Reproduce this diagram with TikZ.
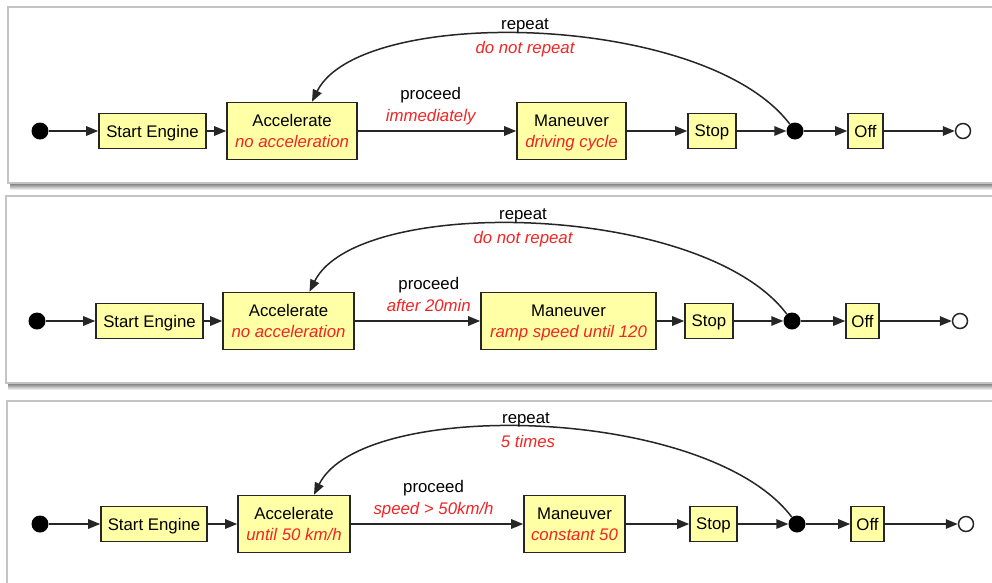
\documentclass[tikz,border=0pt]{standalone}
\usepackage{fontspec}
\setmainfont{Liberation Sans}
\usetikzlibrary{arrows.meta}
\definecolor{boxy}{HTML}{FFFFA6}
\definecolor{redt}{HTML}{F22424}
\definecolor{framec}{HTML}{C4C4C4}
\newcommand\redit[1]{{\color{redt}\itshape #1}}
\newcommand\labfont{\fontsize{16.8}{21}\selectfont}
\begin{document}
\begin{tikzpicture}[x=1pt,y=-1pt,
 box/.style={draw=black!85, line width=1.6pt, fill=boxy, inner sep=0pt, align=center, font=\labfont, minimum height=35pt, text depth=0pt},
 bigbox/.style={box, minimum height=57pt},
 dotn/.style={circle, fill=black, minimum size=17pt, inner sep=0pt},
 fin/.style={circle, draw=black!85, fill=white, line width=1.5pt, minimum size=15pt, inner sep=0pt},
 conn/.style={line width=1.5pt, draw=black!85, -{Triangle[length=12pt,width=9.5pt]}},
 lbl/.style={font=\labfont, inner sep=0pt, anchor=base},
 panelframe/.style={draw=framec, line width=1.2pt, fill=white},
 shadowband/.style={top color=black!55, bottom color=white}
]
\useasboundingbox (0,0) rectangle (992,582);
\clip (0,0) rectangle (992,582);
\fill[white] (0,0) rectangle (992,582);

% ---------- panel frames ----------
\shade[shadowband] (10,183) rectangle (1000,190);
\draw[panelframe] (8,7) rectangle (1000,183);
\shade[shadowband] (8,383) rectangle (1000,390);
\draw[panelframe] (6,196) rectangle (1000,383);
\draw[panelframe] (7,401) rectangle (1000,600);

% ---------- panel 1 ----------
\node[dotn] (i1) at (40,131) {};
\node[box, minimum width=107pt] (se1) at (152.5,131) {Start Engine};
\node[bigbox, minimum width=130pt] (ac1) at (292,131) {Accelerate\\\redit{no acceleration}};
\node[bigbox, minimum width=109pt] (mn1) at (571.5,131) {Maneuver\\\redit{driving cycle}};
\node[box, minimum width=48pt] (st1) at (712,131) {Stop};
\node[dotn] (j1) at (795,131) {};
\node[box, minimum width=35pt] (off1) at (865.5,131) {Off};
\node[fin] (f1) at (963,131) {};
\draw[conn] (i1) -- (se1);
\draw[conn] (se1) -- (ac1);
\draw[conn] (ac1) -- node[lbl, pos=.46, yshift=32pt] (p1a) {proceed}
                     node[lbl, pos=.46, yshift=10pt] (p1b) {\redit{immediately}} (mn1);
\draw[conn] (mn1) -- (st1);
\draw[conn] (st1) -- (j1);
\draw[conn] (j1) -- (off1);
\draw[conn] (off1) -- (f1);
\draw[conn] (j1) .. controls +(-90,-119) and +(48,-97) .. ([xshift=20pt]ac1.north);
\node[lbl] (r1a) at (525,29) {repeat};
\node[lbl] (r1b) at (525,53) {\redit{do not repeat}};

% ---------- panel 2 ----------
\node[dotn] (i2) at (37,321) {};
\node[box, minimum width=107pt] (se2) at (149.5,321) {Start Engine};
\node[bigbox, minimum width=131pt] (ac2) at (288.5,321) {Accelerate\\\redit{no acceleration}};
\node[bigbox, minimum width=175pt] (mn2) at (568.5,321) {Maneuver\\\redit{ramp speed until 120}};
\node[box, minimum width=48pt] (st2) at (709,321) {Stop};
\node[dotn] (j2) at (792,321) {};
\node[box, minimum width=33pt] (off2) at (862.5,321) {Off};
\node[fin] (f2) at (960,321) {};
\draw[conn] (i2) -- (se2);
\draw[conn] (se2) -- (ac2);
\draw[conn] (ac2) -- node[lbl, pos=.59, yshift=32pt] (p2a) {proceed}
                     node[lbl, pos=.59, yshift=10pt] (p2b) {\redit{after 20min}} (mn2);
\draw[conn] (mn2) -- (st2);
\draw[conn] (st2) -- (j2);
\draw[conn] (j2) -- (off2);
\draw[conn] (off2) -- (f2);
\draw[conn] (j2) .. controls +(-90,-119) and +(48,-97) .. ([xshift=21pt]ac2.north);
\node[lbl] (r2a) at (523,219) {repeat};
\node[lbl] (r2b) at (523,243) {\redit{do not repeat}};

% ---------- panel 3 ----------
\node[dotn] (i3) at (40,524) {};
\node[box, minimum width=106pt] (se3) at (154,524) {Start Engine};
\node[bigbox, minimum width=112pt] (ac3) at (294,524) {Accelerate\\\redit{until 50 km/h}};
\node[bigbox, minimum width=101pt] (mn3) at (574.5,524) {Maneuver\\\redit{constant 50}};
\node[box, minimum width=47pt] (st3) at (713.5,524) {Stop};
\node[dotn] (j3) at (797,524) {};
\node[box, minimum width=33pt] (off3) at (867.5,524) {Off};
\node[fin] (f3) at (966,524) {};
\draw[conn] (i3) -- (se3);
\draw[conn] (se3) -- (ac3);
\draw[conn] (ac3) -- node[lbl, pos=.48, yshift=32pt] (p3a) {proceed}
                     node[lbl, pos=.48, yshift=10pt] (p3b) {\redit{speed > 50km/h}} (mn3);
\draw[conn] (mn3) -- (st3);
\draw[conn] (st3) -- (j3);
\draw[conn] (j3) .. controls +(-90,-119) and +(48,-97) .. ([xshift=20pt]ac3.north);
\draw[conn] (j3) -- (off3);
\draw[conn] (off3) -- (f3);
\node[lbl] (r3a) at (526,423) {repeat};
\node[lbl] (r3b) at (528,447) {\redit{5 times}};
\end{tikzpicture}
\end{document}
